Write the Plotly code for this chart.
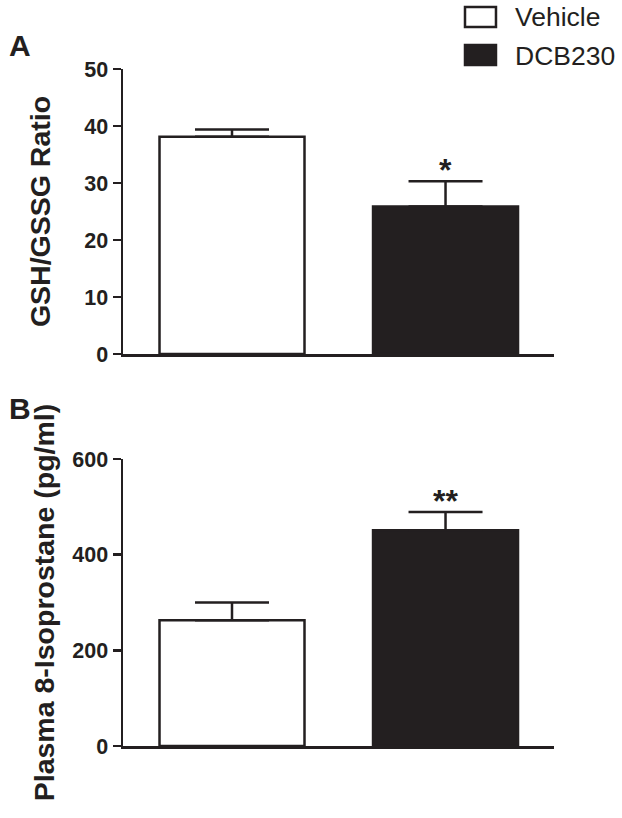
import plotly.graph_objects as go

groups = ["Vehicle", "DCB230"]
gsh_ratio = [38.1, 25.9]
gsh_err = [1.3, 4.4]
isoprostane = [263, 451]
iso_err = [37, 38]
gsh_ticks = [0, 10, 20, 30, 40, 50]
iso_ticks = [0, 200, 400, 600]
sig_a = ["", "*"]
sig_b = ["", "**"]

INK = "#231f20"
fills = ["white", INK]
TICKFONT = dict(family="Liberation Sans Narrow, Arial Narrow, Liberation Sans, Arial", size=21.5, color=INK, weight="bold")
TITLEFONT = dict(family="Liberation Sans, Arial", size=28.5, color=INK, weight="bold")
LW = 2.5

fig = go.Figure()
fig.add_trace(go.Bar(
    x=groups, y=gsh_ratio, xaxis="x", yaxis="y",
    marker=dict(color=fills, line=dict(color=INK, width=LW)),
    width=0.679,
    error_y=dict(type="data", symmetric=False, array=gsh_err, arrayminus=[0, 0],
                 color=INK, thickness=LW, width=37),
    showlegend=False, hoverinfo="skip",
))
fig.add_trace(go.Bar(
    x=groups, y=isoprostane, xaxis="x2", yaxis="y2",
    marker=dict(color=fills, line=dict(color=INK, width=LW)),
    width=0.679,
    error_y=dict(type="data", symmetric=False, array=iso_err, arrayminus=[0, 0],
                 color=INK, thickness=LW, width=37),
    showlegend=False, hoverinfo="skip",
))

STARFONT = dict(family="Liberation Sans, Arial", size=32, color=INK, weight="bold")
for g, v, e, s in zip(groups, gsh_ratio, gsh_err, sig_a):
    if s:
        fig.add_annotation(x=g, y=v + e, xref="x", yref="y", text=s, showarrow=False,
                           yanchor="bottom", yshift=-9, font=STARFONT)
for g, v, e, s in zip(groups, isoprostane, iso_err, sig_b):
    if s:
        fig.add_annotation(x=g, y=v + e, xref="x2", yref="y2", text=s, showarrow=False,
                           yanchor="bottom", yshift=-9, font=STARFONT)

axis_common = dict(showline=True, linecolor=INK, linewidth=LW, showgrid=False, zeroline=False)
tick_common = dict(ticks="outside", ticklen=8, tickwidth=LW, tickcolor=INK, tickfont=TICKFONT)
fig.update_layout(
    width=622, height=818,
    margin=dict(l=123, r=68, t=69, b=72),
    plot_bgcolor="white", paper_bgcolor="white",
    xaxis=dict(domain=[0, 1], anchor="y", range=[-0.5105, 1.508], showticklabels=False,
               ticks="", **axis_common),
    yaxis=dict(domain=[0.579, 1.0], anchor="x", range=[0, 50], tickvals=gsh_ticks,
               title=dict(text="GSH/GSSG Ratio", font=TITLEFONT, standoff=26),
               **tick_common, **axis_common),
    xaxis2=dict(domain=[0, 1], anchor="y2", range=[-0.5105, 1.508], showticklabels=False,
                ticks="", **axis_common),
    yaxis2=dict(domain=[0, 0.4239], anchor="x2", range=[0, 600], tickvals=iso_ticks,
                title=dict(text="Plasma 8-Isoprostane (pg/ml)", font=TITLEFONT, standoff=10),
                **tick_common, **axis_common),
)

LABELFONT = dict(family="Liberation Sans, Arial", size=30, color=INK, weight="bold")
fig.add_annotation(x=-0.2401, y=1.034, xref="paper", yref="paper", text="A",
                   showarrow=False, xanchor="center", yanchor="middle", font=LABELFONT)
fig.add_annotation(x=-0.2401, y=0.4978, xref="paper", yref="paper", text="B",
                   showarrow=False, xanchor="center", yanchor="middle", font=LABELFONT)

# legend drawn as boxes + labels
legend_box_y = [(1.0620, 1.0916), (1.0059, 1.0355)]
legend_text_y = [1.0761, 1.0192]
for name, fc, (y0, y1), ty in zip(groups, fills, legend_box_y, legend_text_y):
    fig.add_shape(type="rect", xref="paper", yref="paper",
                  x0=0.7935, x1=0.8654, y0=y0, y1=y1,
                  line=dict(color=INK, width=LW), fillcolor=fc)
    fig.add_annotation(x=0.904, y=ty, xref="paper", yref="paper", text=name,
                       showarrow=False, xanchor="left", yanchor="middle",
                       font=dict(family="Liberation Sans, Arial", size=26.5, color=INK))

fig.write_html("out.html", config={"displayModeBar": False, "staticPlot": True},
               post_script="document.body.style.margin='0';")
